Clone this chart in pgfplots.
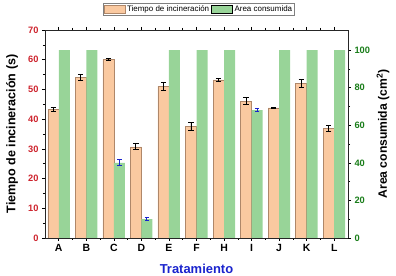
\documentclass[border=0pt]{standalone}
\usepackage{pgfplots}
\pgfplotsset{compat=1.18}
\usepackage{fontspec}
\setmainfont{Liberation Sans}
\definecolor{orf}{RGB}{250,201,160}
\definecolor{ore}{RGB}{175,135,105}
\definecolor{grf}{RGB}{152,212,152}
\definecolor{redt}{RGB}{205,35,45}
\definecolor{grt}{RGB}{25,125,25}
\definecolor{bluet}{RGB}{25,35,205}
\pgfplotstableread{
x y e
-0.2 43.3 0.7
0.8 54.0 1.0
1.8 60.0 0.3
2.8 30.7 1.0
3.8 51.0 1.2
4.8 37.6 1.3
5.8 53.2 0.6
6.8 46.0 1.2
7.8 43.8 0.15
8.8 52.0 1.3
9.8 36.8 1.0
}\tiempo
\pgfplotstableread{
x y
0.2 100
1.2 100
2.2 40
3.2 10
4.2 100
5.2 100
6.2 100
7.2 68
8.2 100
9.2 100
10.2 100
}\area
\pgfplotstableread{
x y e
2.2 40 1.6
3.2 10 0.8
7.2 68 0.8
}\areaerr
\begin{document}
\begin{tikzpicture}
\pgfplotsset{
  common/.style={
    scale only axis, width=303bp, height=208bp,
    xmin=-0.5, xmax=10.5,
    /pgf/number format/assume math mode=true,
    ticklabel style={font=\fontsize{9.3}{10}\selectfont\bfseries},
    tick style={black, line width=0.6pt},
    axis line style={line width=0.8pt, black!85},
    major tick length=3bp, minor tick length=2bp,
  }
}
\begin{axis}[common, name=a,
  ymin=0, ymax=70,
  xtick={0,...,10}, xticklabels={A,B,C,D,E,F,H,I,J,K,L},
  minor x tick num=1,
  ytick={0,10,...,70}, minor y tick num=1,
  ytick pos=left, xtick pos=both,
  tick align=outside,
  x tick label style={font=\fontsize{10.5}{11}\selectfont\bfseries},
  y tick label style={text=redt},
  ylabel={\bfseries Tiempo de incineración (s)},
  ylabel style={font=\fontsize{12.6}{14}\selectfont, at={(axis description cs:-0.109,0.5)}, anchor=center},
  xlabel={\bfseries Tratamiento},
  xlabel style={font=\fontsize{13}{14}\selectfont, text=bluet, at={(axis description cs:0.5,-0.15)}, anchor=center},
]
\addplot[ybar, bar width=0.4, bar shift=0, fill=orf, draw=ore, line width=0.5pt,
  error bars/.cd, y dir=both, y explicit,
  error bar style={black, line width=0.9pt},
  error mark options={rotate=90, mark size=2.6bp, black, line width=0.9pt}]
  table[x=x, y=y, y error=e] {\tiempo};
\end{axis}
\begin{axis}[common,
  ymin=0, ymax=110.7,
  axis x line=none, axis y line*=right,
  ytick={0,20,...,100}, minor y tick num=1,
  tick align=outside,
  y tick label style={text=grt},
  ylabel={\bfseries Area consumida (cm$^{\mathbf{2}}$)},
  ylabel style={font=\fontsize{12.2}{14}\selectfont, at={(axis description cs:1.1155,0.5)}, anchor=center},
  legend style={at={(0.508,1.068)}, anchor=south, legend columns=2,
    font=\fontsize{8}{9}\selectfont, draw=gray, line width=0.4pt,
    inner sep=0.5pt, row sep=0pt,
    /tikz/every even column/.append style={column sep=0bp}},
  legend image code/.code={\draw[#1] (0bp,-4bp) rectangle (21bp,4bp);},
]
\addlegendimage{fill=orf, draw=ore}
\addlegendentry{Tiempo de incineración}
\addplot[ybar, bar width=0.4, bar shift=0, fill=grf, draw=none]
  table[x=x, y=y] {\area};
\addlegendentry{Area consumida}
\addplot[draw=none, mark=none, forget plot,
  error bars/.cd, y dir=both, y explicit,
  error bar style={draw=bluet, line width=0.9pt},
  error mark options={rotate=90, mark size=2.2bp, draw=bluet, line width=0.9pt}]
  table[x=x, y=y, y error=e] {\areaerr};
\end{axis}
\pgfresetboundingbox
\useasboundingbox ([shift={(-45bp,-38bp)}]a.south west) rectangle ([shift={(48bp,30bp)}]a.north east);
\end{tikzpicture}
\end{document}
